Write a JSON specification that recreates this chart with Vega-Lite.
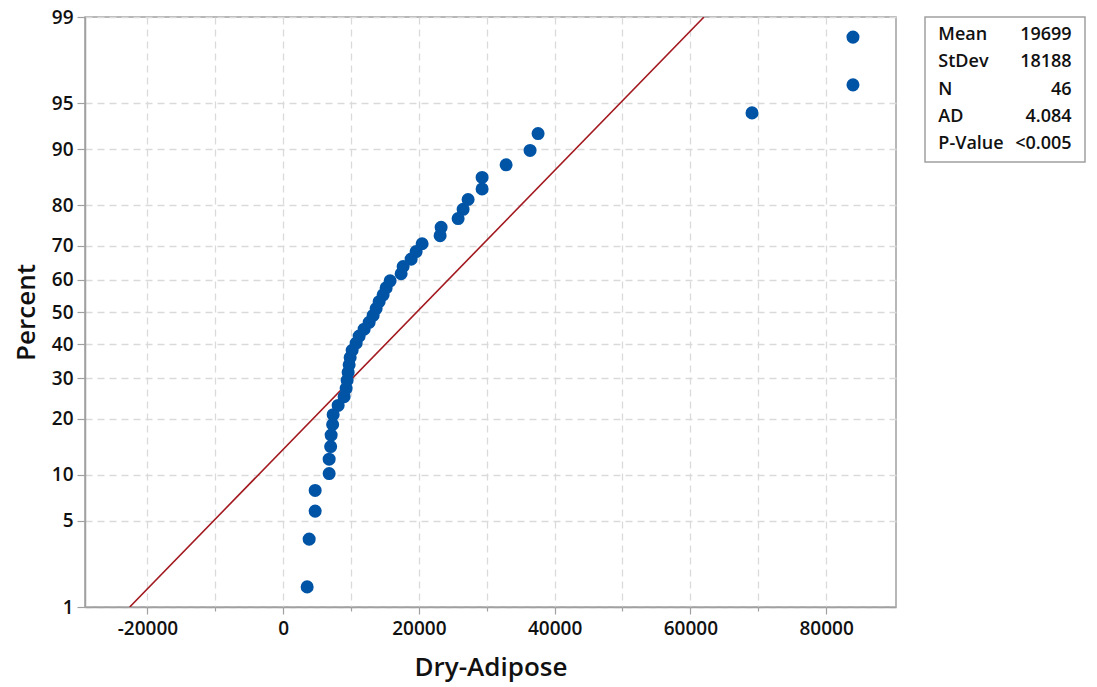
{
  "$schema": "https://vega.github.io/schema/vega-lite/v6.json",
  "autosize": "none",
  "padding": {"left": 85, "top": 17, "right": 1012, "bottom": 670},
  "bounds": "flush",
  "spacing": 29,
  "background": "white",
  "config": {
    "font": "Open Sans",
    "view": {"stroke": "#a0a0a0", "strokeWidth": 1.5},
    "axis": {
      "labelFont": "Open Sans", "labelFontWeight": 600, "labelFontSize": 19, "labelColor": "#111111",
      "titleFont": "Open Sans", "titleFontWeight": 600, "titleFontSize": 26, "titleColor": "#111111",
      "domainColor": "#a0a0a0", "domainWidth": 1.5, "tickColor": "#a0a0a0", "tickWidth": 1.2,
      "gridColor": "#dadada", "gridDash": [7, 5], "gridWidth": 1.3
    }
  },
  "datasets": {
    "points": [
      {"dry": 3535, "z": -2.1677}, {"dry": 3830, "z": -1.7911}, {"dry": 4714, "z": -1.5702}, {"dry": 4714, "z": -1.4068},
      {"dry": 6776, "z": -1.2742}, {"dry": 6776, "z": -1.1609}, {"dry": 6997, "z": -1.0608}, {"dry": 7070, "z": -0.9703},
      {"dry": 7291, "z": -0.8871}, {"dry": 7365, "z": -0.8097}, {"dry": 8100, "z": -0.7369}, {"dry": 8985, "z": -0.6677},
      {"dry": 9280, "z": -0.6016}, {"dry": 9427, "z": -0.5381}, {"dry": 9575, "z": -0.4766}, {"dry": 9722, "z": -0.4169},
      {"dry": 9870, "z": -0.3587}, {"dry": 10164, "z": -0.3016}, {"dry": 10753, "z": -0.2455}, {"dry": 11195, "z": -0.1902},
      {"dry": 11931, "z": -0.1355}, {"dry": 12668, "z": -0.0811}, {"dry": 13257, "z": -0.0270}, {"dry": 13700, "z": 0.0270},
      {"dry": 14140, "z": 0.0811}, {"dry": 14730, "z": 0.1355}, {"dry": 15170, "z": 0.1902}, {"dry": 15760, "z": 0.2455},
      {"dry": 17380, "z": 0.3016}, {"dry": 17676, "z": 0.3587}, {"dry": 18854, "z": 0.4169}, {"dry": 19590, "z": 0.4766},
      {"dry": 20475, "z": 0.5381}, {"dry": 23126, "z": 0.6016}, {"dry": 23273, "z": 0.6677}, {"dry": 25778, "z": 0.7369},
      {"dry": 26514, "z": 0.8097}, {"dry": 27250, "z": 0.8871}, {"dry": 29313, "z": 0.9703}, {"dry": 29313, "z": 1.0608},
      {"dry": 32850, "z": 1.1609}, {"dry": 36380, "z": 1.2742}, {"dry": 37560, "z": 1.4068}, {"dry": 69084, "z": 1.5702},
      {"dry": 83960, "z": 1.7911}, {"dry": 83960, "z": 2.1677}
    ],
    "fit": [
      {"dry": -22612, "z": -2.3263},
      {"dry": 62010, "z": 2.3263}
    ],
    "stats": [
      {"stat": "Mean", "value": "19699", "order": 1},
      {"stat": "StDev", "value": "18188", "order": 2},
      {"stat": "N", "value": "46", "order": 3},
      {"stat": "AD", "value": "4.084", "order": 4},
      {"stat": "P-Value", "value": "<0.005", "order": 5}
    ]
  },
  "hconcat": [
    {
      "width": 811,
      "height": 590,
      "resolve": {"axis": {"x": "independent"}},
      "layer": [
        {
          "data": {"name": "fit"},
          "mark": {"type": "line", "color": "#a2191f", "strokeWidth": 1.6, "clip": true},
          "encoding": {
            "x": {
              "field": "dry", "type": "quantitative",
              "axis": {
                "orient": "bottom", "title": null, "labels": false, "domain": false,
                "values": [-10000, 10000, 30000, 50000, 70000],
                "tickSize": 4, "grid": true
              }
            },
            "y": {"field": "z", "type": "quantitative"}
          }
        },
        {
          "data": {"name": "points"},
          "mark": {"type": "circle", "size": 170, "color": "#0054a6", "opacity": 1},
          "encoding": {
            "x": {
              "field": "dry", "type": "quantitative",
              "scale": {"domain": [-29200, 90300], "nice": false, "zero": false},
              "axis": {
                "orient": "bottom",
                "title": "Dry-Adipose",
                "values": [-20000, 0, 20000, 40000, 60000, 80000],
                "labelExpr": "'' + datum.value",
                "tickSize": 7, "labelPadding": 5, "titlePadding": 16, "grid": true
              }
            },
            "y": {
              "field": "z", "type": "quantitative",
              "scale": {"domain": [-2.3263, 2.3263], "nice": false, "zero": false},
              "axis": {
                "title": "Percent",
                "values": [-2.3263, -1.6449, -1.2816, -0.8416, -0.5244, -0.2533, 0, 0.2533, 0.5244, 0.8416, 1.2816, 1.6449, 2.3263],
                "labelExpr": "format(cumulativeNormal(datum.value) * 100, '.0f')",
                "tickSize": 8, "labelPadding": 4, "titlePadding": 12, "grid": true
              }
            }
          }
        }
      ]
    },
    {
      "width": 160,
      "height": 145,
      "data": {"name": "stats"},
      "view": {"stroke": "#a0a0a0", "strokeWidth": 1.5},
      "layer": [
        {
          "mark": {"type": "text", "align": "left", "baseline": "middle", "font": "Open Sans", "fontWeight": 600, "fontSize": 18, "color": "#111111"},
          "encoding": {
            "y": {"field": "stat", "type": "ordinal", "sort": {"field": "order"}, "scale": {"type": "point", "padding": 0.68}, "axis": null},
            "x": {"datum": 0, "type": "quantitative", "scale": {"domain": [-0.075, 1.02]}, "axis": null},
            "text": {"field": "stat"}
          }
        },
        {
          "mark": {"type": "text", "align": "right", "baseline": "middle", "font": "Open Sans", "fontWeight": 600, "fontSize": 18, "color": "#111111"},
          "encoding": {
            "y": {"field": "stat", "type": "ordinal", "sort": {"field": "order"}, "scale": {"type": "point", "padding": 0.68}, "axis": null},
            "x": {"datum": 1, "type": "quantitative", "axis": null},
            "text": {"field": "value"}
          }
        }
      ]
    }
  ]
}
